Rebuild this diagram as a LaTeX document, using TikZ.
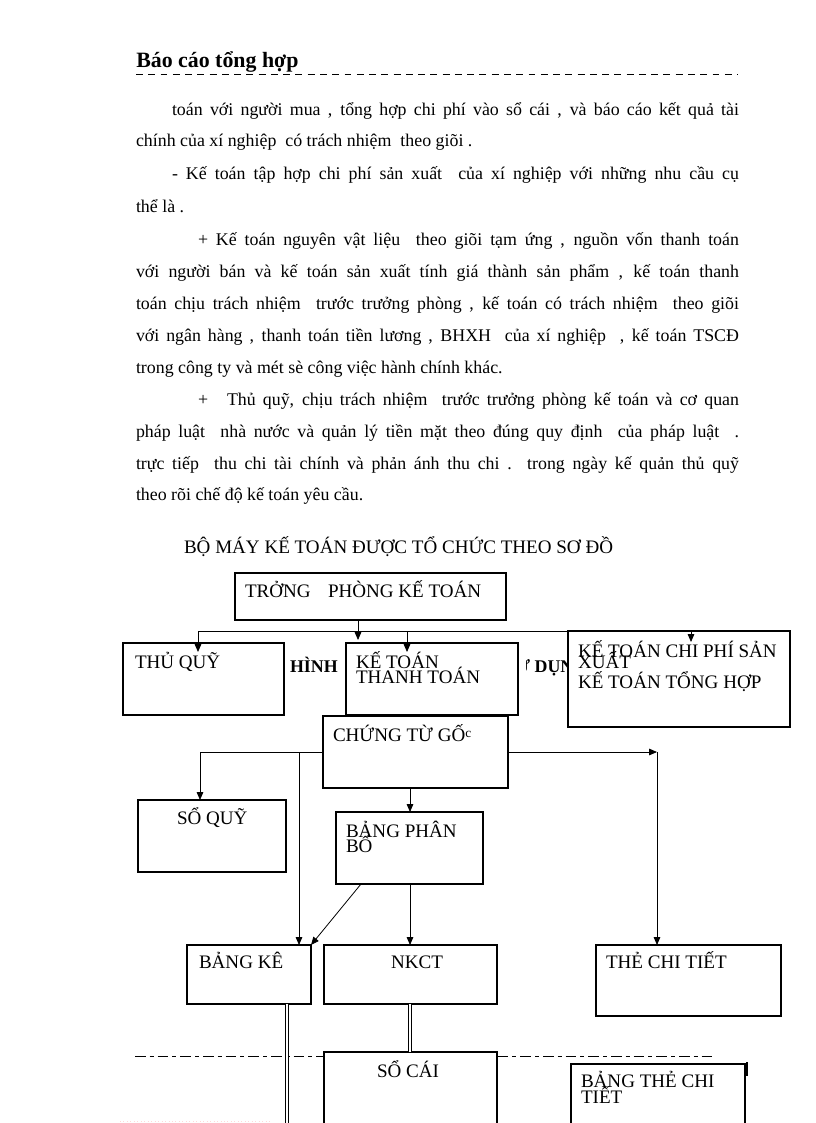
\documentclass[tikz,border=0pt]{standalone}
\usepackage{fontspec}
\setmainfont{Liberation Serif}
\usetikzlibrary{arrows.meta,calc}
\newcommand\bx[5]{\node[box,minimum width={(#4-#2)*0.75pt},minimum height={(#5-#3)*0.75pt}] (#1) at (#2,#3) {};}
\newcommand\stk[1]{\vtop{\baselineskip=11.25pt\lineskiplimit=-100pt\lineskip=0pt #1}}
\begin{document}
\begin{tikzpicture}[x=0.75pt,y=-0.75pt,
  txt/.style={anchor=base west,inner sep=0,outer sep=0,font=\fontsize{13.4}{16}\selectfont},
  dtxt/.style={anchor=base west,inner sep=0,outer sep=0,font=\fontsize{14.3}{16}\selectfont},
  box/.style={draw,line width=0.8pt,fill=white,inner sep=0,outer sep=0,anchor=north west},
  arr/.style={line width=0.6pt,-{Triangle[length=6pt,width=5pt]}},
  ln/.style={line width=0.6pt},
  dbl/.style={double,double distance=1.6pt,line width=0.5pt}]
\useasboundingbox (0,0) rectangle (816,1123);
\clip (0,0) rectangle (816,1123);
% header
\node[anchor=base west,inner sep=0,font=\fontsize{16.4}{18}\selectfont\bfseries] (hdr) at (136,68) {Báo cáo tổng hợp};
\coordinate (hl) at (136,74); \coordinate (hr) at (738,74);
\draw[line width=0.7pt,dash pattern=on 5.2pt off 4pt] (hl) -- (hr);
% body text
\node[txt] (p1) at (172,116) {\makebox[425.25pt][s]{toán với người mua , tổng hợp chi phí vào sổ cái , và báo cáo kết quả tài}};
\node[txt] (p2) at (136,147) {chính của xí nghiệp \ có trách nhiệm \ theo giõi .};
\node[txt] (p3) at (172,180) {\makebox[425.25pt][s]{- Kế toán tập hợp chi phí sản xuất \ của xí nghiệp với những nhu cầu cụ}};
\node[txt] (p4) at (136,213) {thể là .};
\node[txt] (p5) at (198,245) {\makebox[405.75pt][s]{+ Kế toán nguyên vật liệu \ theo giõi tạm ứng , nguồn vốn thanh toán}};
\node[txt] (p6) at (136,277) {\makebox[452.25pt][s]{với người bán và kế toán sản xuất tính giá thành sản phẩm , kế toán thanh}};
\node[txt] (p7) at (136,309) {\makebox[452.25pt][s]{toán chịu trách nhiệm \ trước trưởng phòng , kế toán có trách nhiệm \ theo giõi}};
\node[txt] (p8) at (136,341) {\makebox[452.25pt][s]{với ngân hàng , thanh toán tiền lương , BHXH \ của xí nghiệp \ , kế toán TSCĐ}};
\node[txt] (p9) at (136,373) {trong công ty và mét sè công việc hành chính khác.};
\node[txt] (p10a) at (198,405) {+};
\node[txt] (p10) at (227,405) {\makebox[384pt][s]{Thủ quỹ, chịu trách nhiệm \ trước trưởng phòng kế toán và cơ quan}};
\node[txt] (p11) at (136,437) {\makebox[452.25pt][s]{pháp luật \ nhà nước và quản lý tiền mặt theo đúng quy định \ của pháp luật \ .}};
\node[txt] (p12) at (136,469) {\makebox[452.25pt][s]{trực tiếp \ thu chi tài chính và phản ánh thu chi . trong ngày kế quản thủ quỹ}};
\node[txt] (p13) at (136,500) {theo rõi chế độ kế toán yêu cầu.};
% title
\node[dtxt] (title) at (184,553) {BỘ MÁY KẾ TOÁN ĐƯỢC TỔ CHỨC THEO SƠ ĐỒ};
% dash-dot line
\coordinate (dl) at (135,1056); \coordinate (dr) at (716,1056);
\draw[ln,dash pattern=on 8pt off 3pt on 3pt off 3pt] (dl) -- (dr);
% hidden title fragments
\node[txt,font=\fontsize{13.4}{16}\selectfont\bfseries] (hinh) at (290,672) {HÌNH};
\begin{scope}
\clip (526,640) rectangle (567,700);
\node[txt,font=\fontsize{13.4}{16}\selectfont\bfseries] (sudung) at (506,672) {SỬ DỤNG};
\end{scope}
% boxes
\bx{trong}{235}{573}{506}{620}
\bx{thuquy}{123}{643}{284}{715}
\bx{kttt}{346}{643}{518}{715}
\bx{ktcp}{568}{631}{790}{727}
\bx{ctg}{323}{716}{508}{788}
\bx{soquy}{138}{800}{286}{872}
\bx{bpb}{336}{812}{483}{884}
\bx{bke}{187}{945}{311}{1004}
\bx{nkct}{324}{945}{497}{1004}
\bx{tct}{596}{945}{781}{1016}
\bx{socai}{324}{1052}{497}{1140}
\bx{btct}{571}{1064}{745}{1140}
% box texts
\node[dtxt] (l-trong) at (245,597) {TRỞNG\hspace{13pt}PHÒNG KẾ TOÁN};
\node[dtxt] (l-thuquy) at (135,668) {THỦ QUỸ};
\node[dtxt] (l-kttt) at (356,668) {\stk{\hbox{KẾ TOÁN}\hbox{THANH TOÁN}}};
\node[dtxt] (l-ktcp) at (578,657) {\stk{\hbox{KẾ TOÁN CHI PHÍ SẢN}\kern-3pt\hbox{XUẤT}\kern3.75pt\hbox{KẾ TOÁN TỔNG HỢP}}};
\node[dtxt] (l-ctg) at (333,741) {CHỨNG TỪ GỐ\raisebox{3pt}{\fontsize{10}{10}\selectfont c}};
\node[dtxt] (l-soquy) at (177,824) {SỔ QUỸ};
\node[dtxt] (l-bpb) at (346,837) {\stk{\hbox{BẢNG PHÂN}\hbox{BỔ}}};
\node[dtxt] (l-bke) at (199,968) {BẢNG KÊ};
\node[dtxt] (l-nkct) at (391,968) {NKCT};
\node[dtxt] (l-tct) at (606,968) {THẺ CHI TIẾT};
\node[dtxt] (l-socai) at (377,1077) {SỔ CÁI};
\node[dtxt] (l-btct) at (581,1087) {\stk{\hbox{BẢNG THẺ CHI}\kern0.75pt\hbox{TIẾT}}};
% reference coordinates
\coordinate (x198) at (198,0); \coordinate (x358) at (358,0);
\coordinate (x407) at (407,0); \coordinate (x691) at (691,0);
\coordinate (x200) at (200,0); \coordinate (x299) at (299,0);
\coordinate (x410) at (410,0); \coordinate (x657) at (657,0);
\coordinate (x361) at (361,0); \coordinate (x287) at (287,0);
\coordinate (y631) at (0,631); \coordinate (y752) at (0,752);
% connectors
\draw[arr] (trong.south -| x358) -- ++(0,20);
\draw[ln] (x198 |- y631) -- (x691 |- y631);
\draw[arr] (x198 |- y631) -- ++(0,21);
\draw[arr] (x407 |- y631) -- ++(0,21);
\draw[arr] (x691 |- y631) -- ++(0,11);
\draw[ln] (ctg.west |- y752) -- (x200 |- y752);
\draw[arr] (x200 |- y752) -- (soquy.north -| x200);
\draw[arr] (x299 |- y752) -- (bke.north -| x299);
\draw[arr] (ctg.south -| x410) -- (bpb.north -| x410);
\draw[arr] (ctg.east |- y752) -- (x657 |- y752);
\draw[arr] (x657 |- y752) -- (tct.north -| x657);
\draw[arr] (bpb.south -| x361) -- (bke.north east);
\draw[arr] (bpb.south -| x410) -- (nkct.north -| x410);
\draw[dbl] (bke.south -| x287) -- ++(0,130);
\draw[dbl] (nkct.south -| x410) -- (socai.north -| x410);
\coordinate (tk1) at (747,1062); \coordinate (tk2) at (747,1076);
\draw[line width=0.8pt] (tk1) -- (tk2);
\coordinate (pk1) at (120,1121); \coordinate (pk2) at (272,1121);
\draw[pink!60,dotted,line width=0.6pt] (pk1) -- (pk2);
\end{tikzpicture}
\end{document}
